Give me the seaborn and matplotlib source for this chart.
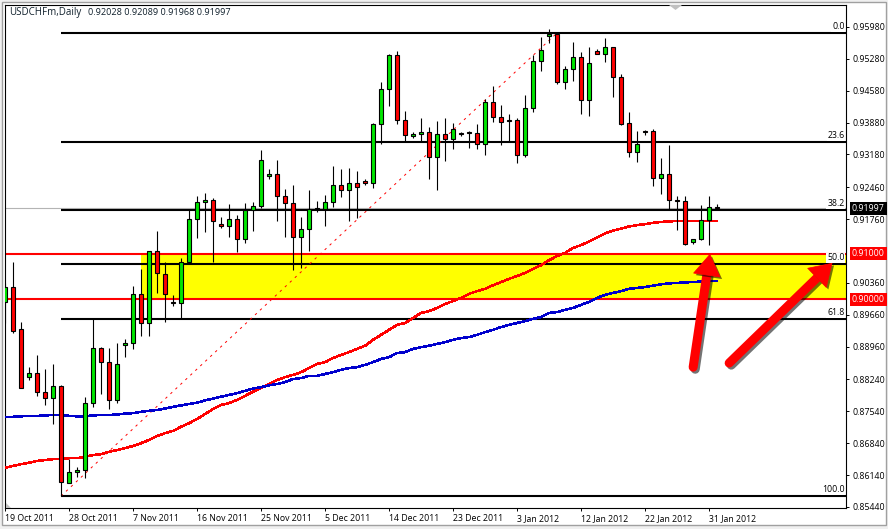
import matplotlib
matplotlib.use("Agg")
import matplotlib.pyplot as plt
import matplotlib.patheffects as pe
from matplotlib.patches import Rectangle, Polygon
import seaborn as sns
import pandas as pd

tick_dates = ["19 Oct 2011", "28 Oct 2011", "7 Nov 2011", "16 Nov 2011", "25 Nov 2011", "5 Dec 2011",
              "14 Dec 2011", "23 Dec 2011", "3 Jan 2012", "12 Jan 2012", "22 Jan 2012", "31 Jan 2012"]
price_ticks = [0.9598, 0.9528, 0.9458, 0.9388, 0.9318, 0.9246, 0.9176, 0.9036,
               0.8966, 0.8896, 0.8824, 0.8754, 0.8684, 0.8614, 0.8544]

opens = [.8994, .9027, .8935, .8829, .8838, .8797, .8783, .8810, .8597, .8621,
         .8625, .8772, .8893, .8862, .8779, .8900, .8904, .9012, .8948, .9106,
         .9056, .8994, .8992, .9082, .9176, .9214, .9218, .9165, .9161, .9176,
         .9132, .9196, .9205, .9271, .9275, .9227, .9212, .9137, .9154, .9198,
         .9198, .9214, .9251, .9240, .9255, .9260, .9255, .9385, .9462, .9536,
         .9394, .9359, .9363, .9367, .9313, .9363, .9352, .9365, .9367, .9365,
         .9341, .9433, .9400, .9394, .9394, .9317, .9420, .9523, .9578, .9583,
         .9477, .9506, .9532, .9438, .9545, .9539, .9554, .9488, .9387, .9324,
         .9369, .9370, .9266, .9275, .9218, .9216, .9126, .9132, .9174, .92028]
closes = [.9027, .8930, .8805, .8838, .8797, .8783, .8810, .8599, .8621, .8625,
          .8772, .8893, .8862, .8779, .8858, .8904, .9012, .8948, .9106, .9058,
          .9012, .8992, .9082, .9176, .9214, .9218, .9172, .9161, .9176, .9132,
          .9196, .9205, .9306, .9275, .9227, .9212, .9137, .9154, .9198, .9200,
          .9214, .9251, .9240, .9255, .9247, .9255, .9385, .9462, .9536, .9394,
          .9361, .9363, .9367, .9313, .9363, .9352, .9374, .9363, .9365, .9341,
          .9433, .9400, .9389, .9392, .9317, .9420, .9523, .9548, .9583, .9477,
          .9506, .9532, .9438, .9519, .9539, .9554, .9488, .9385, .9324, .9341,
          .9367, .9266, .9275, .9218, .9216, .9122, .9132, .9174, .9203, .91997]
highs = [.9036, .9082, .8950, .8851, .8878, .8847, .8858, .8812, .8649, .8632,
         .8786, .8957, .8895, .8893, .8904, .8913, .9029, .9067, .9106, .9150,
         .9082, .9010, .9091, .9198, .9227, .9234, .9222, .9181, .9209, .9185,
         .9212, .9214, .9328, .9286, .9306, .9242, .9251, .9181, .9240, .9216,
         .9229, .9293, .9286, .9288, .9282, .9264, .9387, .9477, .9539, .9545,
         .9414, .9367, .9398, .9378, .9392, .9398, .9387, .9367, .9370, .9385,
         .9440, .9468, .9427, .9407, .9398, .9449, .9536, .9576, .9594, .9585,
         .9512, .9565, .9543, .9554, .9550, .9574, .9554, .9495, .9411, .9370,
         .9372, .9374, .9310, .9339, .9227, .9227, .9132, .9207, .9227, .92089]
lows = [.8948, .8926, .8805, .8823, .8788, .8768, .8726, .8568, .8597, .8610,
        .8608, .8764, .8792, .8759, .8772, .8873, .8891, .8919, .8919, .9014,
        .8950, .8985, .8959, .9080, .9135, .9148, .9082, .9157, .9137, .9104,
        .9124, .9150, .9200, .9264, .9172, .9137, .9064, .9069, .9106, .9192,
        .9161, .9203, .9225, .9172, .9179, .9251, .9244, .9341, .9424, .9385,
        .9345, .9354, .9345, .9264, .9240, .9304, .9330, .9359, .9332, .9330,
        .9317, .9389, .9339, .9345, .9299, .9313, .9411, .9501, .9563, .9473,
        .9462, .9479, .9407, .9403, .9539, .9521, .9444, .9383, .9313, .9301,
        .9361, .9249, .9231, .9198, .9152, .9119, .9122, .9130, .9119, .91968]

ma_red = [.8630, .8634, .8638, .8641, .8645, .8647, .8649, .8649, .8651, .8651,
          .8654, .8658, .8660, .8665, .8669, .8673, .8678, .8684, .8691, .8700,
          .8706, .8711, .8720, .8728, .8737, .8748, .8759, .8768, .8772, .8779,
          .8788, .8797, .8805, .8814, .8823, .8829, .8834, .8840, .8849, .8858,
          .8862, .8871, .8878, .8884, .8891, .8898, .8911, .8922, .8933, .8944,
          .8948, .8959, .8970, .8974, .8981, .8990, .8996, .9003, .9012, .9018,
          .9023, .9031, .9038, .9045, .9051, .9058, .9067, .9075, .9086, .9095,
          .9102, .9113, .9119, .9127, .9136, .9145, .9151, .9155, .9160, .9163,
          .9165, .9168, .9170, .9171, .9172, .9172, .9172, .9172, .9172, .9172]
ma_blue = [.8742, .8742, .8743, .8744, .8744, .8745, .8746, .8746, .8744, .8743,
           .8743, .8745, .8746, .8746, .8747, .8749, .8750, .8753, .8755, .8757,
           .8760, .8764, .8767, .8770, .8773, .8778, .8782, .8786, .8790, .8794,
           .8799, .8804, .8807, .8811, .8814, .8818, .8825, .8827, .8832, .8832,
           .8836, .8840, .8845, .8849, .8851, .8856, .8862, .8869, .8873, .8882,
           .8884, .8891, .8895, .8898, .8902, .8906, .8911, .8915, .8917, .8922,
           .8928, .8933, .8939, .8944, .8948, .8952, .8957, .8961, .8970, .8972,
           .8977, .8981, .8988, .8994, .9003, .9010, .9014, .9018, .9023, .9025,
           .9027, .9030, .9033, .9035, .9036, .9037, .9038, .9039, .9040, .9040]

fib_levels = [0.0, 23.6, 38.2, 50.0, 61.8, 100.0]
fib_high = 0.9585
fib_low = 0.8568
fib_high_bar = 69
fib_low_bar = 7
zone_top = 0.91
zone_bottom = 0.90
zone_start_bar = 17
last_price = 0.91997
# tail and tip of the two hand drawn arrows (bar, price)
arrows = [((86.0, 0.8851), (88.1, 0.9100)), ((90.5, 0.8860), (103.4, 0.9080))]

GREEN = "#00e600"
RED = "#ff0000"
FONT = "Open Sans"
FS = 6.3

sns.set_theme(style="white")
plt.rcParams["font.family"] = [FONT, "DejaVu Sans"]

W, H = 888, 529
fig = plt.figure(figsize=(W / 100, H / 100), dpi=100, facecolor="#f0f0f0")
# window frame around the chart
fig.add_artist(Rectangle((1.5 / W, 1 - 525 / H), 884.5 / W, 523 / H, transform=fig.transFigure,
                         facecolor="white", edgecolor="#a0a0a0", lw=1, zorder=-1))
ax = fig.add_axes([4.5 / W, 1 - 508 / H, (846 - 4.5) / W, (508 - 4.5) / H])
ax.patch.set_alpha(0)
ax.set_xlim(-0.06, 105.1)
ax.set_ylim(0.85417, 0.96474)

df = pd.DataFrame({"bar": range(len(opens)), "open": opens, "close": closes, "high": highs, "low": lows,
                   "ma_red": ma_red, "ma_blue": ma_blue})

# yellow zone and its two red borders
ax.add_patch(Rectangle((zone_start_bar, zone_bottom), 105.1 - zone_start_bar, zone_top - zone_bottom,
                       facecolor="#ffff00", edgecolor="none", zorder=1))
ax.axhline(last_price, color="#b4b4b4", lw=0.8, zorder=1.5)
for lvl in [zone_top, zone_bottom]:
    ax.axhline(lvl, color=RED, lw=1.5, zorder=2)

# fibonacci levels
for lvl in fib_levels:
    price = fib_high - (fib_high - fib_low) * lvl / 100
    ax.plot([fib_low_bar, 105.1], [price, price], color="black", lw=1.5, zorder=2.2, solid_capstyle="butt")
    ax.annotate(f"{lvl:.1f}", (105.1, price), xytext=(-1, 1.5), textcoords="offset points", ha="right", va="bottom",
                fontsize=FS, color="black", zorder=8,
                bbox=dict(facecolor="white", edgecolor="none", pad=0.6))
ax.plot([fib_low_bar, fib_high_bar], [fib_low, fib_high], color=RED, lw=0.7, ls=(0, (2.5, 4.5)), zorder=2.3)

# moving averages
sns.lineplot(data=df, x="bar", y="ma_red", color=RED, lw=1.1, ax=ax, zorder=3, antialiased=False)
sns.lineplot(data=df, x="bar", y="ma_blue", color="#0000cd", lw=1.1, ax=ax, zorder=3, antialiased=False)

# candles
ax.vlines(df["bar"], df["low"], df["high"], color="black", lw=0.8, zorder=4)
body_low = df[["open", "close"]].min(axis=1)
body_size = (df["close"] - df["open"]).abs()
colors = [GREEN if c >= o else RED for o, c in zip(opens, closes)]
ax.bar(df["bar"], body_size, bottom=body_low, width=0.53, color=colors, edgecolor="black", lw=0.8, zorder=5)

# arrows
for tail, tip in arrows:
    shadow = [pe.SimpleLineShadow(offset=(1.5, -1.5), shadow_color="black", alpha=0.55), pe.Normal()]
    mid = (tail[0] + (tip[0] - tail[0]) * 0.9, tail[1] + (tip[1] - tail[1]) * 0.9)
    ax.plot([tail[0], mid[0]], [tail[1], mid[1]], color=RED, lw=6.5, solid_capstyle="round", zorder=6,
            path_effects=shadow)
    ax.annotate("", xy=tip, xytext=mid, zorder=7,
                arrowprops=dict(arrowstyle="-|>,head_length=0.75,head_width=0.48", mutation_scale=20, color=RED,
                                lw=0.5, shrinkA=0, shrinkB=0,
                                path_effects=[pe.withSimplePatchShadow(offset=(1.5, -1.5), shadow_rgbFace="black",
                                                                       alpha=0.55)]))

# little grey chart markers
fig.add_artist(Polygon([(669 / W, 1 - 5 / H), (682 / W, 1 - 5 / H), (675.5 / W, 1 - 10 / H)], closed=True,
                       transform=fig.transFigure, facecolor="#c0c0c0", edgecolor="none"))
fig.add_artist(Polygon([(5.5 / W, 1 - 503 / H), (5.5 / W, 1 - 507.5 / H), (10.5 / W, 1 - 507.5 / H)], closed=True,
                       transform=fig.transFigure, facecolor="#c0c0c0", edgecolor="none"))

# axes
ax.yaxis.tick_right()
ax.set_yticks(price_ticks)
ax.set_yticklabels([f"{p:.5f}" for p in price_ticks], fontsize=FS, color="black")
ax.set_xticks(range(0, len(opens), 8))
ax.set_xticklabels(tick_dates, fontsize=FS, color="black", ha="left")
ax.tick_params(axis="y", length=2.5, width=0.7, color="black", pad=2.5, right=True, left=False)
ax.tick_params(axis="x", length=2.5, width=0.7, color="black", pad=2, bottom=True)
ax.set_xlabel("")
ax.set_ylabel("")
for s in ax.spines.values():
    s.set_color("black")
    s.set_linewidth(0.8)

# boxed price labels on the scale
for price, bg in [(zone_top, RED), (zone_bottom, RED), (last_price, "black")]:
    ax.annotate(f"{price:.5f}", (1.0, price), xycoords=ax.get_yaxis_transform(), xytext=(4.2, 0),
                textcoords="offset points", ha="left", va="center", fontsize=FS, color="white", zorder=9,
                annotation_clip=False, bbox=dict(facecolor=bg, edgecolor="none", pad=1.4))

fig.text(9 / W, 1 - 12.5 / H, "USDCHFm,Daily", fontsize=FS + 0.7, color="#10202c", va="center", ha="left")
fig.text(88 / W, 1 - 12.5 / H, f"{opens[-1]:.5f} {highs[-1]:.5f} {lows[-1]:.5f} {closes[-1]:.5f}",
         fontsize=FS + 0.3, color="#10202c", va="center", ha="left")

assert all(len(s) == 90 for s in [opens, closes, highs, lows, ma_red, ma_blue])
fig.savefig("out.png", dpi=100, facecolor=fig.get_facecolor())
plt.close(fig)
